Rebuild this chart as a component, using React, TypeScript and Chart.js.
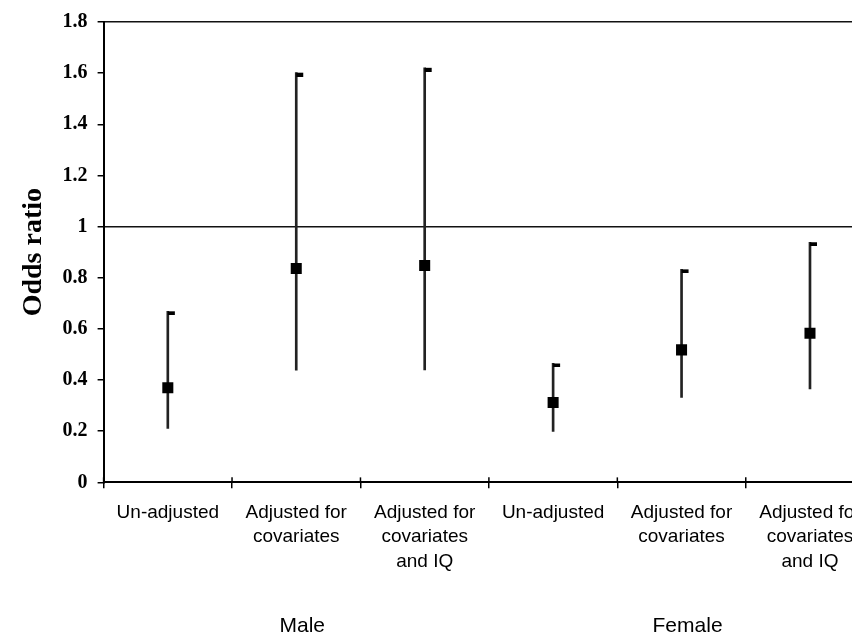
import { useEffect, useRef } from 'react';
import { Chart, registerables } from 'chart.js';

Chart.register(...registerables);

const categoryLabels: string[][] = [
  ['Un-adjusted'],
  ['Adjusted for', 'covariates'],
  ['Adjusted for', 'covariates', 'and IQ'],
  ['Un-adjusted'],
  ['Adjusted for', 'covariates'],
  ['Adjusted for', 'covariates', 'and IQ'],
];
const groupLabels = ['', 'Male', '', '', 'Female', ''];
const oddsRatio = [0.37, 0.836, 0.848, 0.312, 0.518, 0.583];
const ciLow = [0.211, 0.439, 0.44, 0.199, 0.332, 0.365];
const ciHigh = [0.669, 1.602, 1.621, 0.465, 0.833, 0.939];
const yMin = 0;
const yMax = 1.8;
const yStep = 0.2;
const referenceValues = [1, 1.8];
const yTitle = 'Odds ratio';

const sans = '"Liberation Sans", Arial, sans-serif';
const serif = '"Liberation Serif", "Times New Roman", serif';

export default function App() {
  const ref = useRef<HTMLCanvasElement | null>(null);

  useEffect(() => {
    if (!ref.current) return;
    const cap = document.createElement('canvas');
    cap.width = 16;
    cap.height = 8;
    const cctx = cap.getContext('2d')!;
    cctx.fillStyle = '#000';
    cctx.fillRect(8, 4, 7, 4);

    const xTicksUp = {
      id: 'xTicksUp',
      afterDraw(chart: any) {
        const xs = chart.scales.x;
        const ctx = chart.ctx;
        const n = xs.ticks.length;
        ctx.save();
        ctx.strokeStyle = '#000';
        ctx.lineWidth = 1.5;
        for (let i = 0; i <= n; i++) {
          const x = xs.left + ((xs.right - xs.left) * i) / n;
          ctx.beginPath();
          ctx.moveTo(x, xs.top);
          ctx.lineTo(x, xs.top - 5);
          ctx.stroke();
        }
        ctx.restore();
      },
    };

    const chart = new Chart(ref.current, {
      type: 'bar',
      data: {
        labels: categoryLabels as any,
        datasets: [
          {
            type: 'line',
            label: 'Odds ratio',
            data: oddsRatio,
            showLine: false,
            pointStyle: 'rect',
            pointRadius: 7.8,
            pointBackgroundColor: '#000',
            pointBorderWidth: 0,
            order: 1,
            xAxisID: 'x',
            yAxisID: 'y',
          } as any,
          {
            type: 'line',
            label: 'Upper',
            data: ciHigh,
            showLine: false,
            pointStyle: cap,
            pointRadius: 4,
            order: 2,
            xAxisID: 'x',
            yAxisID: 'y',
          } as any,
          {
            type: 'bar',
            label: 'CI',
            data: ciLow.map((l, i) => [l, ciHigh[i]]),
            backgroundColor: '#222',
            barThickness: 2,
            borderWidth: 0,
            order: 3,
            xAxisID: 'x',
            yAxisID: 'y',
          } as any,
        ],
      },
      options: {
        responsive: false,
        animation: false,
        layout: { padding: { top: 20.5, right: 5.5, bottom: 1.9, left: 0 } },
        plugins: { legend: { display: false }, tooltip: { enabled: false } },
        scales: {
          x: {
            type: 'category',
            offset: true,
            grid: { offset: true, drawOnChartArea: false, color: '#000', lineWidth: 1.5, tickLength: 6 },
            border: { color: '#000', width: 2 },
            ticks: {
              color: '#000',
              font: { family: sans, size: 19, lineHeight: 1.29 },
              padding: 12,
              maxRotation: 0,
              autoSkip: false,
            },
          },
          x2: {
            type: 'category',
            labels: groupLabels,
            position: 'bottom',
            offset: true,
            grid: { display: false },
            border: { display: false },
            ticks: {
              color: '#000',
              font: { family: sans, size: 21 },
              padding: 20,
              labelOffset: 6,
              maxRotation: 0,
              autoSkip: false,
            },
          },
          y: {
            min: yMin,
            max: yMax,
            ticks: {
              stepSize: yStep,
              color: '#000',
              font: { family: serif, size: 20, weight: 'bold' },
              padding: 10,
              callback: (v: any) => String(Math.round(Number(v) * 10) / 10),
            },
            grid: {
              color: (c: any) =>
                referenceValues.some((r) => Math.abs(c.tick.value - r) < 1e-6) ? '#111' : 'rgba(0,0,0,0)',
              tickColor: '#000',
              lineWidth: 1.5,
              tickLength: 6,
            },
            border: { color: '#000', width: 2 },
            title: {
              display: true,
              text: yTitle,
              color: '#000',
              font: { family: serif, size: 28, weight: 'bold' },
              padding: { top: 17, bottom: 2 },
            },
          },
        },
      } as any,
      plugins: [xTicksUp],
    });
    return () => chart.destroy();
  }, []);

  return (
    <div
      style={{
        position: 'fixed',
        left: 0,
        top: 0,
        width: 852,
        height: 634,
        overflow: 'hidden',
        background: '#fff',
      }}
    >
      <canvas ref={ref} width={882} height={661} style={{ display: 'block' }} />
    </div>
  );
}
